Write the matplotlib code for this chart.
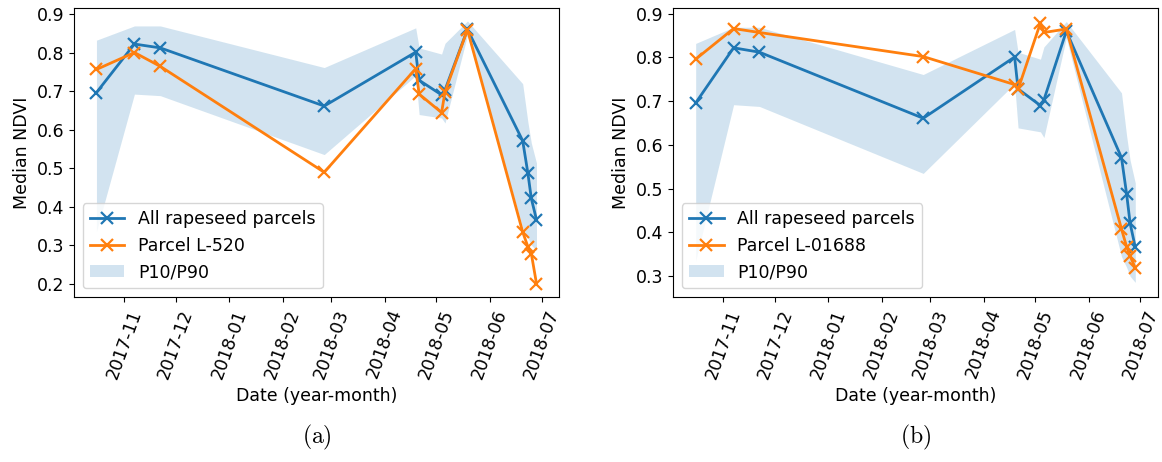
import numpy as np
import pandas as pd
import matplotlib
matplotlib.use("Agg")
import matplotlib.pyplot as plt
import matplotlib.dates as mdates

plt.rcParams['mathtext.fontset'] = 'cm'

# fechas de adquisicion
dates = pd.to_datetime(["2017-10-16", "2017-11-07", "2017-11-22", "2018-02-25",
                        "2018-04-19", "2018-04-21", "2018-05-04", "2018-05-06",
                        "2018-05-19", "2018-06-20", "2018-06-23", "2018-06-25",
                        "2018-06-28"])

# mediana de todas las parcelas de colza
all_median = [0.696, 0.822, 0.812, 0.661, 0.801, 0.728, 0.690, 0.703,
              0.860, 0.571, 0.487, 0.421, 0.366]
# percentiles P10 / P90
p10 = [0.335, 0.692, 0.688, 0.535, 0.740, 0.639, 0.630, 0.617,
       0.845, 0.345, 0.320, 0.300, 0.286]
p90 = [0.832, 0.869, 0.869, 0.761, 0.864, 0.812, 0.796, 0.824,
       0.882, 0.719, 0.620, 0.565, 0.513]

# parcelas individuales
parcel_a = [0.756, 0.800, 0.764, 0.489, 0.758, 0.692, 0.644, 0.698,
            0.859, 0.334, 0.296, 0.278, 0.200]
parcel_b = [0.796, 0.866, 0.857, 0.802, 0.738, 0.727, 0.879, 0.857,
            0.865, 0.408, 0.367, 0.346, 0.319]

panels = [("Parcel L-520", parcel_a, (0.165, 0.9156), r"$\mathrm{(a)}$"),
          ("Parcel L-01688", parcel_b, (0.2524, 0.913), r"$\mathrm{(b)}$")]

fs = 12.5
fig = plt.figure(figsize=(11.62, 4.62), dpi=100)
boxes = [[0.0637, 0.357, 0.4173, 0.6257], [0.5794, 0.357, 0.4169, 0.6257]]

for box, (name, parcel, ylim, cap) in zip(boxes, panels):
    ax = fig.add_axes(box)
    ax.plot(dates, all_median, marker="x", color="C0", lw=2, ms=8.5, mew=1.6,
            label="All rapeseed parcels")
    ax.plot(dates, parcel, marker="x", color="C1", lw=2, ms=8.5, mew=1.6,
            label=name)
    ax.fill_between(dates, p10, p90, color="C0", alpha=0.2, lw=0,
                    label="P10/P90")
    ax.set_ylim(*ylim)
    ax.set_xlim(pd.Timestamp("2017-10-03"), pd.Timestamp("2018-07-11"))
    ax.xaxis.set_major_locator(mdates.MonthLocator())
    ax.xaxis.set_major_formatter(mdates.DateFormatter("%Y-%m"))
    ax.tick_params(labelsize=fs)
    for lab in ax.get_xticklabels():
        lab.set_rotation(70)
    ax.set_xlabel("Date (year-month)", fontsize=fs)
    ax.set_ylabel("Median NDVI", fontsize=fs)
    ax.legend(loc="lower left", fontsize=fs)
    fig.text(box[0] + box[2] / 2, 0.054, cap, ha="center", va="center",
             fontsize=17)

fig.savefig("out.png", dpi=100)
